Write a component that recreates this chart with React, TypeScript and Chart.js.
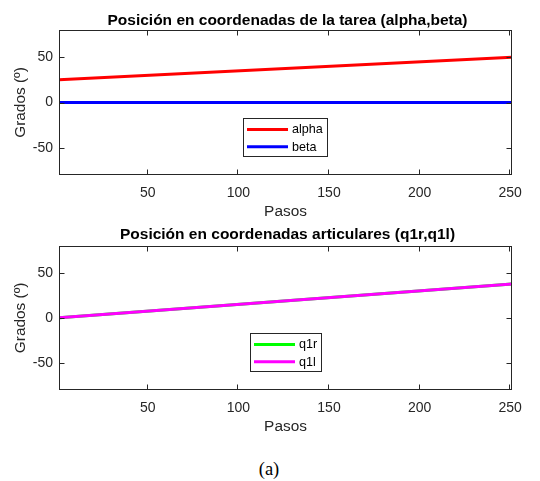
import React, { useEffect, useRef } from 'react';
import { Chart, registerables } from 'chart.js';

Chart.register(...registerables);

// ---- data ----
const steps = [1, 251];
const alpha = [25, 50];
const beta = [0, 0];
const q1r = [0, 37.5];
const q1l = [0, 37.5];
const xTicks = [50, 100, 150, 200, 250];
const yTicks = [-50, 0, 50];
const xRange = [1, 251];
const yRange = [-80, 80];
const titleTop = 'Posición en coordenadas de la tarea (alpha,beta)';
const titleBottom = 'Posición en coordenadas articulares (q1r,q1l)';
const xLabel = 'Pasos';
const yLabel = 'Grados (º)';
const caption = '(a)';

const FONT = "'Liberation Sans', Arial, Helvetica, sans-serif";
const AX = '#262626';

const toPoints = (ys: number[]) => steps.map((x, i) => ({ x, y: ys[i] }));

const boxPlugin = {
  id: 'matlabBox',
  afterDatasetsDraw(chart: any) {
    const { ctx, chartArea: a, scales } = chart;
    ctx.save();
    ctx.strokeStyle = AX;
    ctx.lineWidth = 1;
    const L = Math.round(a.left) + 0.5;
    const R = Math.round(a.right) - 0.5;
    const T = Math.round(a.top) + 0.5;
    const B = Math.round(a.bottom) - 0.5;
    ctx.strokeRect(L, T, R - L, B - T);
    const tl = 5;
    ctx.beginPath();
    xTicks.forEach((v) => {
      const px = Math.round(scales.x.getPixelForValue(v)) - 0.5;
      ctx.moveTo(px, B);
      ctx.lineTo(px, B - tl);
      ctx.moveTo(px, T);
      ctx.lineTo(px, T + tl);
    });
    yTicks.forEach((v) => {
      const py = Math.round(scales.y.getPixelForValue(v)) + 0.5;
      ctx.moveTo(L, py);
      ctx.lineTo(L + tl, py);
      ctx.moveTo(R, py);
      ctx.lineTo(R - tl, py);
    });
    ctx.stroke();
    ctx.restore();
  },
};

const titlePlugin = {
  id: 'matlabTitle',
  afterDraw(chart: any, _args: any, opts: any) {
    const { ctx, chartArea: a } = chart;
    ctx.save();
    ctx.font = `bold 15.5px ${FONT}`;
    ctx.fillStyle = '#000';
    ctx.textAlign = 'center';
    ctx.textBaseline = 'alphabetic';
    ctx.fillText(opts.text, (a.left + a.right) / 2 + 2, opts.baseline);
    ctx.restore();
  },
};

const legendPlugin = {
  id: 'matlabLegend',
  afterDraw(chart: any) {
    const { ctx, chartArea: a } = chart;
    const ds = chart.data.datasets;
    ctx.save();
    ctx.font = `12.6px ${FONT}`;
    const tw = Math.max(...ds.map((d: any) => ctx.measureText(d.label).width));
    const w = Math.round(4 + 41 + 4 + tw + 5);
    const h = 39;
    const cx = (a.left + a.right) / 2;
    const x0 = Math.round(cx - w / 2);
    const y0 = Math.round(a.bottom - 18 - h);
    ctx.fillStyle = '#fff';
    ctx.fillRect(x0, y0, w, h);
    ctx.strokeStyle = AX;
    ctx.lineWidth = 1;
    ctx.strokeRect(x0 + 0.5, y0 + 0.5, w - 1, h - 1);
    ds.forEach((d: any, i: number) => {
      const y = y0 + 11.5 + i * 17.3;
      ctx.strokeStyle = d.borderColor;
      ctx.lineWidth = 3;
      ctx.beginPath();
      ctx.moveTo(x0 + 4, y);
      ctx.lineTo(x0 + 45, y);
      ctx.stroke();
      ctx.fillStyle = '#000';
      ctx.textBaseline = 'middle';
      ctx.textAlign = 'left';
      ctx.fillText(d.label, x0 + 49, y + 0.5);
    });
    ctx.restore();
  },
};

type PlotProps = {
  top: number;
  height: number;
  title: string;
  areaTop: number;
  titleBaseline: number;
  series: { label: string; values: number[]; color: string }[];
};

function Plot({ top, height, title, areaTop, titleBaseline, series }: PlotProps) {
  const ref = useRef<HTMLCanvasElement | null>(null);
  useEffect(() => {
    if (!ref.current) return;
    const chart = new Chart(ref.current, {
      type: 'line',
      data: {
        datasets: series.map((s, i) => ({
          label: s.label,
          data: toPoints(s.values),
          borderColor: s.color,
          backgroundColor: s.color,
          borderWidth: 3,
          pointRadius: 0,
          tension: 0,
          fill: false,
          order: -i,
        })),
      },
      options: {
        animation: false,
        responsive: false,
        layout: { padding: { left: 0, right: 28, top: areaTop, bottom: 0 } },
        plugins: {
          legend: { display: false },
          tooltip: { enabled: false },
          title: { display: false },
          matlabTitle: { text: title, baseline: titleBaseline },
        },
        scales: {
          x: {
            type: 'linear',
            min: xRange[0],
            max: xRange[1],
            afterBuildTicks: (s: any) => {
              s.ticks = xTicks.map((v) => ({ value: v }));
            },
            afterFit: (s: any) => {
              s.height = 50;
            },
            grid: { display: false, drawTicks: false },
            border: { display: false },
            ticks: {
              color: AX,
              font: { family: FONT, size: 14 },
              padding: 10,
              maxRotation: 0,
              autoSkip: false,
            },
            title: {
              display: true,
              text: xLabel,
              color: AX,
              font: { family: FONT, size: 15.4, lineHeight: 1.2 },
              padding: { top: 0, bottom: 3.75 },
            },
          },
          y: {
            type: 'linear',
            min: yRange[0],
            max: yRange[1],
            afterBuildTicks: (s: any) => {
              s.ticks = yTicks.map((v) => ({ value: v }));
            },
            afterFit: (s: any) => {
              s.width = 59;
            },
            grid: { display: false, drawTicks: false },
            border: { display: false },
            ticks: {
              color: AX,
              font: { family: FONT, size: 14 },
              padding: 6,
              autoSkip: false,
            },
            title: {
              display: true,
              text: yLabel,
              color: AX,
              font: { family: FONT, size: 15.4, lineHeight: 1.2 },
              padding: { top: 11.5, bottom: 0 },
            },
          },
        },
      },
      plugins: [boxPlugin, legendPlugin, titlePlugin],
    } as any);
    return () => chart.destroy();
  }, []);
  return (
    <div style={{ position: 'absolute', left: 0, top, width: 540, height }}>
      <canvas ref={ref} width={540} height={height} style={{ display: 'block' }} />
    </div>
  );
}

export default function App() {
  return (
    <div style={{ position: 'absolute', left: 0, top: 0, width: 540, height: 481, background: '#fff' }}>
      <Plot
        top={0}
        height={225}
        title={titleTop}
        areaTop={30}
        titleBaseline={25}
        series={[
          { label: 'alpha', values: alpha, color: '#ff0000' },
          { label: 'beta', values: beta, color: '#0000ff' },
        ]}
      />
      <Plot
        top={220}
        height={220}
        title={titleBottom}
        areaTop={25.7}
        titleBaseline={19.3}
        series={[
          { label: 'q1r', values: q1r, color: '#00ff00' },
          { label: 'q1l', values: q1l, color: '#ff00ff' },
        ]}
      />
      <div
        style={{
          position: 'absolute',
          left: 0,
          top: 460,
          width: 538,
          textAlign: 'center',
          fontFamily: "'Liberation Serif', 'Times New Roman', serif",
          fontSize: 18.5,
          lineHeight: '18.5px',
          color: '#000',
        }}
      >
        {caption}
      </div>
    </div>
  );
}
